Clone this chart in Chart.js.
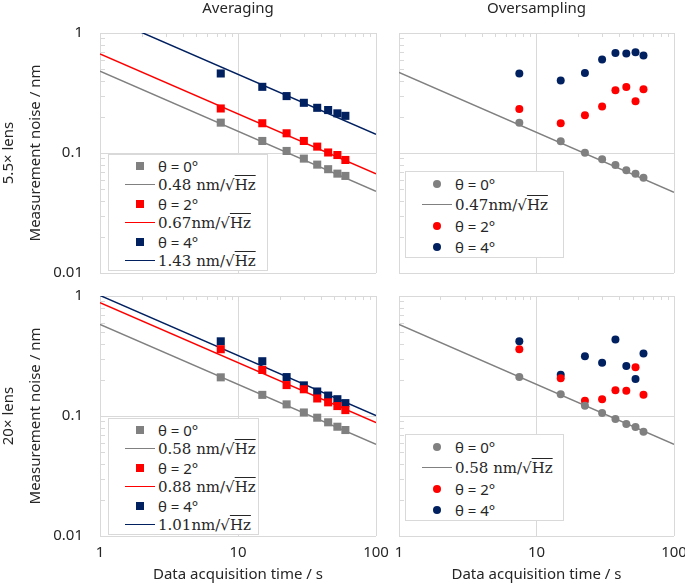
<!DOCTYPE html>
<html>
<head>
<meta charset="utf-8">
<style>
  body { margin: 0; background: #fff; }
  #wrap { position: relative; width: 685px; height: 584px; overflow: hidden; }
  canvas { position: absolute; }
  .legend { position: absolute; background: #fff; border: 1px solid #d9d9d9; box-sizing: border-box; padding-top: 1px; }
  .row { display: flex; align-items: center; }
  .sw { width: 30px; margin-left: 16px; display: flex; justify-content: center; align-items: center; }
  .txt { margin-left: 3px; white-space: nowrap; color: #262626; }
  .sans { font: 15px "Noto Sans"; }
  .serif { font: 15px "DejaVu Serif"; }
  .ov { text-decoration: overline; }
</style>
</head>
<body>
<div id="wrap">
  <canvas id="avgA" width="390" height="290" style="left:0;top:0"></canvas>
  <canvas id="ovsA" width="295" height="290" style="left:390px;top:0"></canvas>
  <canvas id="avgB" width="390" height="294" style="left:0;top:290px"></canvas>
  <canvas id="ovsB" width="295" height="294" style="left:390px;top:290px"></canvas>
</div>
<script src="https://cdn.jsdelivr.net/npm/chart.js"></script>
<script>
// acquisition times (s) and the two ends of each fit line
const times = [7.5, 15, 22.5, 30, 37.5, 45, 52.5, 60];
const fitTimes = [1, 100];
const angleLabels = ['θ = 0°', 'θ = 2°', 'θ = 4°'];
const colors = ['#808080', '#ff0000', '#002060'];

// Averaging, 5.5x lens
const avgA0 = [0.179, 0.126, 0.104, 0.0898, 0.080, 0.0733, 0.0673, 0.0644];
const avgA2 = [0.235, 0.177, 0.146, 0.126, 0.113, 0.101, 0.0962, 0.0875];
const avgA4 = [0.460, 0.356, 0.298, 0.262, 0.238, 0.228, 0.214, 0.204];
const avgAFit0 = [0.48, 0.048];
const avgAFit2 = [0.67, 0.067];
const avgAFit4 = [1.43, 0.143];
const avgAFitLabels = ['0.48 nm/√Hz', '0.67nm/√Hz', '1.43 nm/√Hz'];

// Oversampling, 5.5x lens
const ovsA0 = [0.179, 0.125, 0.1005, 0.0887, 0.0794, 0.0718, 0.0673, 0.0623];
const ovsA2 = [0.233, 0.177, 0.206, 0.244, 0.334, 0.354, 0.270, 0.340];
const ovsA4 = [0.460, 0.402, 0.465, 0.601, 0.682, 0.674, 0.691, 0.649];
const ovsAFit0 = [0.47, 0.047];
const ovsAFitLabel = '0.47nm/√Hz';

// Averaging, 20x lens
const avgB0 = [0.210, 0.150, 0.125, 0.107, 0.0968, 0.0886, 0.0814, 0.0764];
const avgB2 = [0.360, 0.242, 0.181, 0.167, 0.140, 0.130, 0.121, 0.112];
const avgB4 = [0.419, 0.286, 0.211, 0.180, 0.160, 0.148, 0.138, 0.128];
const avgBFit0 = [0.58, 0.058];
const avgBFit2 = [0.88, 0.088];
const avgBFit4 = [1.01, 0.101];
const avgBFitLabels = ['0.58 nm/√Hz', '0.88 nm/√Hz', '1.01nm/√Hz'];

// Oversampling, 20x lens
const ovsB0 = [0.211, 0.152, 0.122, 0.106, 0.0944, 0.0858, 0.0809, 0.0740];
const ovsB2 = [0.360, 0.206, 0.134, 0.138, 0.164, 0.162, 0.255, 0.150];
const ovsB4 = [0.419, 0.221, 0.314, 0.278, 0.433, 0.261, 0.203, 0.331];
const ovsBFit0 = [0.58, 0.058];
const ovsBFitLabel = '0.58 nm/√Hz';

const xTitle = 'Data acquisition time / s';
const yTitle = 'Measurement noise / nm';
const textColor = '#262626';
const gridCol = '#d9d9d9';

const pts = (xs, ys) => xs.map((x, i) => ({x, y: ys[i]}));
const isMajor = v => Math.abs(Math.log10(v) - Math.round(Math.log10(v))) < 1e-6;

function markers(label, ys, color, style) {
  return {
    label, data: pts(times, ys), pointStyle: style,
    pointRadius: style === 'rect' ? 5.7 : 4,
    backgroundColor: color, pointBackgroundColor: color, pointBorderWidth: 0,
    showLine: false, order: 0
  };
}
function fit(label, ys, color) {
  return {
    label, data: pts(fitTimes, ys), showLine: true, borderColor: color,
    borderWidth: 1.5, pointRadius: 0, order: 1, isFit: true
  };
}

// little inward minor tick marks on the top and left edges
const minorTicks = {
  id: 'minorTicks',
  beforeDatasetsDraw(chart) {
    const {ctx, chartArea: a, scales: {x, y}} = chart;
    ctx.save();
    ctx.strokeStyle = gridCol;
    ctx.lineWidth = 1;
    ctx.beginPath();
    [[x, true], [y, false]].forEach(([s, horiz]) => {
      for (let e = Math.floor(Math.log10(s.min)); e < Math.log10(s.max); e++) {
        for (let m = 2; m <= 9; m++) {
          const p = Math.round(s.getPixelForValue(m * Math.pow(10, e))) + 0.5;
          if (horiz) { ctx.moveTo(p, a.top); ctx.lineTo(p, a.top + 4); }
          else { ctx.moveTo(a.left, p); ctx.lineTo(a.left + 5, p); }
        }
      }
    });
    ctx.stroke();
    ctx.restore();
  }
};

function makePanel(id, datasets, cfg) {
  const font = {family: 'Noto Sans', size: 15};
  const gridColor = c => isMajor(c.tick.value) ? gridCol : 'rgba(0,0,0,0)';
  return new Chart(document.getElementById(id), {
    type: 'scatter',
    data: {datasets},
    options: {
      responsive: false,
      animation: false,
      events: [],
      layout: {padding: cfg.padding},
      plugins: {
        legend: {display: false},
        tooltip: {enabled: false},
        title: {
          display: !!cfg.title, text: cfg.title, fullSize: false, color: textColor,
          font: {family: 'Noto Sans', size: 15, weight: 'normal'}, padding: {top: 0, bottom: 15}
        }
      },
      scales: {
        x: {
          type: 'logarithmic', min: 1, max: 100,
          grid: {color: gridColor, drawTicks: false},
          border: {display: false},
          ticks: {
            display: cfg.xLabels, autoSkip: false, maxRotation: 0, padding: 8,
            color: textColor, font, callback: v => isMajor(v) ? String(Math.round(v)) : ''
          },
          title: {display: cfg.xLabels, text: xTitle, color: textColor, font, padding: {top: 0, bottom: 0}},
          afterFit: s => { s.height = cfg.xHeight; s.paddingLeft = 0; s.paddingRight = 0; }
        },
        y: {
          type: 'logarithmic', min: 0.01, max: 1,
          grid: {color: gridColor, drawTicks: false},
          border: {display: false},
          ticks: {
            display: !!cfg.rowLabel, autoSkip: false, padding: 17, color: textColor, font,
            callback: v => isMajor(v) ? (v >= 1 ? '1' : v.toFixed(-Math.round(Math.log10(v)))) : ''
          },
          title: {
            display: !!cfg.rowLabel, text: [cfg.rowLabel, yTitle], color: textColor,
            font: {family: 'Noto Sans', size: 15, lineHeight: 1.77}, padding: {top: -4.5, bottom: 0}
          },
          afterFit: s => { s.width = cfg.yWidth; s.paddingTop = 0; s.paddingBottom = 0; }
        }
      }
    },
    plugins: [minorTicks]
  });
}

function addLegend(chart, box) {
  const el = document.createElement('div');
  el.className = 'legend';
  el.style.left = box.left + 'px';
  el.style.top = box.top + 'px';
  el.style.width = box.width + 'px';
  chart.data.datasets.forEach(ds => {
    const row = document.createElement('div');
    row.className = 'row';
    row.style.height = box.rowH + 'px';
    const sw = document.createElement('div');
    sw.className = 'sw';
    const mk = document.createElement('div');
    if (ds.isFit) {
      mk.style.cssText = `width:30px;height:0;border-top:1.5px solid ${ds.borderColor}`;
    } else {
      const r = ds.pointStyle === 'circle' ? '50%' : '0';
      mk.style.cssText = `width:8px;height:8px;background:${ds.backgroundColor};border-radius:${r}`;
    }
    sw.appendChild(mk);
    const t = document.createElement('div');
    t.className = 'txt ' + (ds.isFit ? 'serif' : 'sans');
    if (ds.isFit) {
      const parts = ds.label.split('√');
      t.textContent = parts[0] + '√';
      const ov = document.createElement('span');
      ov.className = 'ov';
      ov.textContent = parts[1];
      t.appendChild(ov);
    } else {
      t.textContent = ds.label;
    }
    row.appendChild(sw);
    row.appendChild(t);
    el.appendChild(row);
  });
  document.getElementById('wrap').appendChild(el);
}

const avgA = makePanel('avgA', [
  markers(angleLabels[0], avgA0, colors[0], 'rect'), fit(avgAFitLabels[0], avgAFit0, colors[0]),
  markers(angleLabels[1], avgA2, colors[1], 'rect'), fit(avgAFitLabels[1], avgAFit2, colors[1]),
  markers(angleLabels[2], avgA4, colors[2], 'rect'), fit(avgAFitLabels[2], avgAFit4, colors[2])
], {title: 'Averaging', rowLabel: '5.5× lens', xLabels: false, xHeight: 17, yWidth: 100,
    padding: {top: 0, right: 14, bottom: 0, left: 0}});

const ovsA = makePanel('ovsA', [
  markers(angleLabels[0], ovsA0, colors[0], 'circle'), fit(ovsAFitLabel, ovsAFit0, colors[0]),
  markers(angleLabels[1], ovsA2, colors[1], 'circle'),
  markers(angleLabels[2], ovsA4, colors[2], 'circle')
], {title: 'Oversampling', rowLabel: null, xLabels: false, xHeight: 17, yWidth: 9,
    padding: {top: 0, right: 11, bottom: 0, left: 0}});

const avgB = makePanel('avgB', [
  markers(angleLabels[0], avgB0, colors[0], 'rect'), fit(avgBFitLabels[0], avgBFit0, colors[0]),
  markers(angleLabels[1], avgB2, colors[1], 'rect'), fit(avgBFitLabels[1], avgBFit2, colors[1]),
  markers(angleLabels[2], avgB4, colors[2], 'rect'), fit(avgBFitLabels[2], avgBFit4, colors[2])
], {title: null, rowLabel: '20× lens', xLabels: true, xHeight: 48, yWidth: 100,
    padding: {top: 6, right: 14, bottom: 0, left: 0}});

const ovsB = makePanel('ovsB', [
  markers(angleLabels[0], ovsB0, colors[0], 'circle'), fit(ovsBFitLabel, ovsBFit0, colors[0]),
  markers(angleLabels[1], ovsB2, colors[1], 'circle'),
  markers(angleLabels[2], ovsB4, colors[2], 'circle')
], {title: null, rowLabel: null, xLabels: true, xHeight: 48, yWidth: 9,
    padding: {top: 6, right: 11, bottom: 0, left: 0}});

addLegend(avgA, {left: 108, top: 154, width: 160, rowH: 19});
addLegend(ovsA, {left: 405, top: 171, width: 159, rowH: 21});
addLegend(avgB, {left: 108, top: 418, width: 151, rowH: 19});
addLegend(ovsB, {left: 405, top: 434, width: 159, rowH: 21});
</script>
</body>
</html>
